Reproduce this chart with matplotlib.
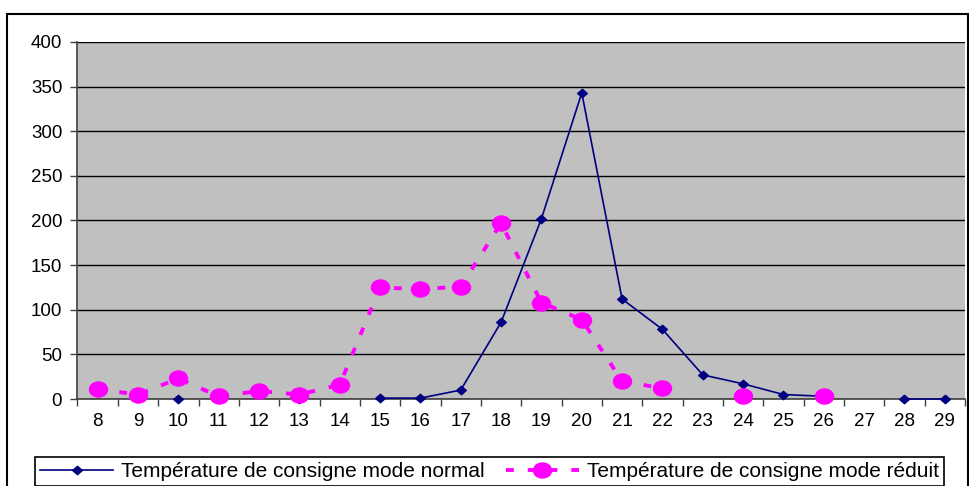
import numpy as np
import matplotlib
matplotlib.use("Agg")
import matplotlib.pyplot as plt
from matplotlib.patches import Rectangle
from matplotlib.ticker import FixedLocator
from matplotlib.path import Path
from matplotlib.transforms import Affine2D

plt.rcParams['font.family'] = ['Liberation Sans', 'DejaVu Sans']

categories = [8, 9, 10, 11, 12, 13, 14, 15, 16, 17, 18, 19, 20, 21, 22, 23, 24, 25, 26, 27, 28, 29]
nan = np.nan
normal = [nan, nan, 0, nan, nan, 0, nan, 1, 1, 10, 86, 202, 343, 112, 78, 27, 17, 5, 3, nan, 0, 0]
reduit = [11, 5, 23, 3, 9, 5, 16, 125, 123, 126, 197, 108, 89, 20, 12, nan, 3, nan, 3, nan, nan, nan]
label_normal = "Température de consigne mode normal"
label_reduit = "Température de consigne mode réduit"

W, H = 970, 486
fig = plt.figure(figsize=(W / 100, H / 100), dpi=100)
ax = fig.add_axes([77.5 / W, 1 - 399 / H, (965 - 77.5) / W, (399 - 42) / H])
ax.set_facecolor('#C0C0C0')

# slightly wide marker shapes (the reference is horizontally stretched)
ellipse = Path.unit_circle().transformed(Affine2D().scale(1.2, 1.0))
diamond = Path([(0, 1), (1.15, 0), (0, -1), (-1.15, 0), (0, 1)],
               [Path.MOVETO, Path.LINETO, Path.LINETO, Path.LINETO, Path.CLOSEPOLY])

x = np.arange(len(categories))
ax.plot(x, normal, color='#000080', lw=1.2, marker=diamond, markersize=7,
        markerfacecolor='#000080', markeredgecolor='#000080', label=label_normal,
        zorder=3, clip_on=False)
ax.plot(x, reduit, color='#FF00FF', lw=2.8, linestyle=(0, (2.0, 3.6)), marker=ellipse, markersize=13,
        markerfacecolor='#FF00FF', markeredgecolor='#FF00FF', label=label_reduit,
        zorder=4, clip_on=False)

ax.set_xlim(-0.5, len(categories) - 0.5)
ax.set_ylim(0, 400)
ax.set_yticks(np.arange(0, 401, 50))
ax.yaxis.grid(True, color='black', lw=1)
ax.set_axisbelow(True)

ax.set_xticks(x)
ax.set_xticklabels([str(c) for c in categories])
ax.xaxis.set_minor_locator(FixedLocator(np.arange(-0.5, len(categories), 1)))
ax.tick_params(axis='x', which='major', length=0, pad=10, labelsize=13.5)
ax.tick_params(axis='x', which='minor', length=5, width=1, color='#404040', direction='out')
ax.tick_params(axis='y', length=5, width=1, color='#404040', labelsize=13.5, pad=6)

for s in ['top', 'right']:
    ax.spines[s].set_visible(False)
for s in ['left', 'bottom']:
    ax.spines[s].set_color('#404040')
    ax.spines[s].set_linewidth(1.2)

# outer chart border
fig.patches.append(Rectangle((7 / W, -0.05), (968 - 7) / W, 1 - 14 / H + 0.05,
                             transform=fig.transFigure, fill=False, edgecolor='black', lw=1.5))

leg = fig.legend(loc='lower left', bbox_to_anchor=(35 / W, 1 - 486 / H), ncol=2,
                 frameon=True, fancybox=False, edgecolor='black', framealpha=1,
                 fontsize=15, handlelength=3.5, handletextpad=0.4, columnspacing=1.0,
                 borderpad=0.25, borderaxespad=0)
leg.get_frame().set_linewidth(1.2)

fig.savefig('out.png', dpi=100)
